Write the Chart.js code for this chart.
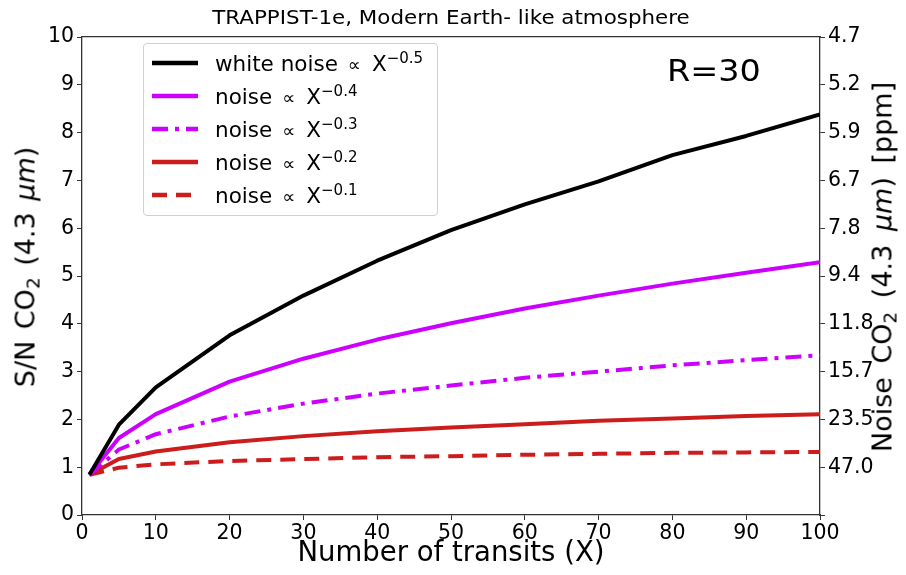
<!DOCTYPE html>
<html>
<head>
<meta charset="utf-8">
<script src="https://cdn.jsdelivr.net/npm/chart.js@4.4.1/dist/chart.umd.min.js"></script>
<style>
  html,body{margin:0;padding:0;background:#fff;}
  #wrap{position:relative;width:906px;height:575px;font-family:"DejaVu Sans",sans-serif;color:#000;}
  canvas{position:absolute;left:0;top:0;}
  .t{position:absolute;white-space:nowrap;}
  #title{left:0;width:902px;top:5px;text-align:center;font-size:20px;transform:scaleX(1.07);}
  #xtitle{left:0;width:902px;top:535px;text-align:center;font-size:27.5px;}
  #ytitle{left:25px;top:267px;font-size:27px;word-spacing:3px;transform:translate(-50%,-50%) rotate(-90deg);}
  #y2title{left:882px;top:267px;font-size:27px;word-spacing:5px;transform:translate(-50%,-50%) rotate(-90deg);}
  #rlabel{left:667px;top:52px;font-size:31px;transform:scaleX(1.08);transform-origin:left center;}
  sub{font-size:0.68em;vertical-align:-0.25em;line-height:0;}
  sup{font-size:0.7em;vertical-align:0.55em;line-height:0;}
  #legend{position:absolute;left:143px;top:43px;width:293px;height:171px;border:1px solid #d0d0d0;border-radius:4px;background:rgba(255,255,255,0.85);}
  .row{position:absolute;left:6px;height:30px;display:flex;align-items:center;font-size:21.5px;}
  .row svg{margin-right:15px;}
  .prop{margin:0 11px 0 10px;font-size:0.85em;}
</style>
</head>
<body>
<div id="wrap">
  <canvas id="c" width="906" height="575"></canvas>
  <div class="t" id="title">TRAPPIST-1e, Modern Earth- like atmosphere</div>
  <div class="t" id="xtitle">Number of transits (X)</div>
  <div class="t" id="ytitle">S/N CO<sub>2</sub> (4.3 <i>μm</i>)</div>
  <div class="t" id="y2title">Noise CO<sub>2</sub> (4.3 <i>μm</i>) [ppm]</div>
  <div class="t" id="rlabel">R=30</div>
  <div id="legend"></div>
</div>
<script>
// ---- data ----
const transits = [1, 5, 10, 20, 30, 40, 50, 60, 70, 80, 90, 100];
const snWhite = [0.84, 1.89, 2.67, 3.76, 4.59, 5.32, 5.96, 6.50, 6.98, 7.53, 7.93, 8.38];
const snExp04 = [0.84, 1.61, 2.11, 2.79, 3.27, 3.67, 4.01, 4.32, 4.59, 4.84, 5.07, 5.29];
const snExp03 = [0.84, 1.37, 1.69, 2.06, 2.33, 2.54, 2.71, 2.87, 3.00, 3.13, 3.24, 3.34];
const snExp02 = [0.84, 1.17, 1.33, 1.52, 1.65, 1.75, 1.83, 1.90, 1.97, 2.02, 2.07, 2.11];
const snExp01 = [0.84, 0.99, 1.06, 1.13, 1.17, 1.21, 1.23, 1.26, 1.28, 1.30, 1.31, 1.32];
const seriesPrefix = ['white noise', 'noise', 'noise', 'noise', 'noise'];
const seriesExponent = ['−0.5', '−0.4', '−0.3', '−0.2', '−0.1'];
const xTicks = [0, 10, 20, 30, 40, 50, 60, 70, 80, 90, 100];
const snTicks = [0, 1, 2, 3, 4, 5, 6, 7, 8, 9, 10];
const noiseTickLabels = ['', '47.0', '23.5', '15.7', '11.8', '9.4', '7.8', '6.7', '5.9', '5.2', '4.7'];

const BLACK = '#000000', MAG = '#cc00ff', RED = '#cc1c1c';
const styles = [
  {color: BLACK, dash: []},
  {color: MAG, dash: []},
  {color: MAG, dash: [16, 7, 4, 7]},
  {color: RED, dash: []},
  {color: RED, dash: [15, 9]}
];
const seriesValues = [snWhite, snExp04, snExp03, snExp02, snExp01];

const datasets = seriesValues.map((vals, i) => ({
  label: seriesPrefix[i] + ' ∝ X' + seriesExponent[i],
  data: transits.map((x, j) => ({x: x, y: vals[j]})),
  borderColor: styles[i].color,
  backgroundColor: styles[i].color,
  borderWidth: 4,
  borderDash: styles[i].dash,
  pointRadius: 0,
  tension: 0,
  fill: false,
  borderCapStyle: 'butt',
  borderJoinStyle: 'round'
}));

const AX = '#333';
const tickFont = {family: 'DejaVu Sans', size: 20.5};

new Chart(document.getElementById('c'), {
  type: 'line',
  data: {datasets},
  options: {
    responsive: false,
    animation: false,
    layout: {padding: 0},
    plugins: {legend: {display: false}, tooltip: {enabled: false}, title: {display: false}},
    scales: {
      x: {
        type: 'linear', position: 'bottom', min: 0, max: 100,
        afterBuildTicks: s => { s.ticks = xTicks.map(v => ({value: v})); },
        ticks: {font: tickFont, color: '#000', padding: 1, maxRotation: 0, autoSkip: false},
        grid: {drawOnChartArea: false, drawTicks: true, tickLength: 5, color: AX},
        border: {color: AX, width: 1.3},
        afterFit: s => { s.height = 60; }
      },
      xTop: {
        type: 'linear', position: 'top', min: 0, max: 100,
        ticks: {display: false},
        grid: {display: false},
        border: {color: AX, width: 1.3},
        afterFit: s => { s.height = 37; }
      },
      y: {
        type: 'linear', position: 'left', min: 0, max: 10,
        afterBuildTicks: s => { s.ticks = snTicks.map(v => ({value: v})); },
        ticks: {font: tickFont, color: '#000', padding: 3},
        grid: {drawOnChartArea: false, drawTicks: true, tickLength: 5, color: AX},
        border: {color: AX, width: 1.3},
        afterFit: s => { s.width = 82; }
      },
      y2: {
        type: 'linear', position: 'right', min: 0, max: 10,
        afterBuildTicks: s => { s.ticks = snTicks.map(v => ({value: v})); },
        ticks: {font: tickFont, color: '#000', padding: 3,
                callback: (v) => noiseTickLabels[snTicks.indexOf(v)]},
        grid: {drawOnChartArea: false, drawTicks: true, tickLength: 5, color: AX},
        border: {color: AX, width: 1.3},
        afterFit: s => { s.width = 86; }
      }
    }
  }
});

// legend (HTML so that superscripts stay real text)
const legend = document.getElementById('legend');
const rowTops = [4, 37, 70, 103, 136];
seriesValues.forEach((_, i) => {
  const row = document.createElement('div');
  row.className = 'row';
  row.style.top = rowTops[i] + 'px';
  const dash = styles[i].dash.length ? ` stroke-dasharray="${styles[i].dash.join(' ')}"` : '';
  row.innerHTML = `<svg width="50" height="10"><line x1="2" y1="5" x2="48" y2="5" stroke="${styles[i].color}" stroke-width="4.5"${dash}/></svg>` +
    `<span>${seriesPrefix[i]}<span class="prop">∝</span>X<sup>${seriesExponent[i]}</sup></span>`;
  legend.appendChild(row);
});
</script>
</body>
</html>
